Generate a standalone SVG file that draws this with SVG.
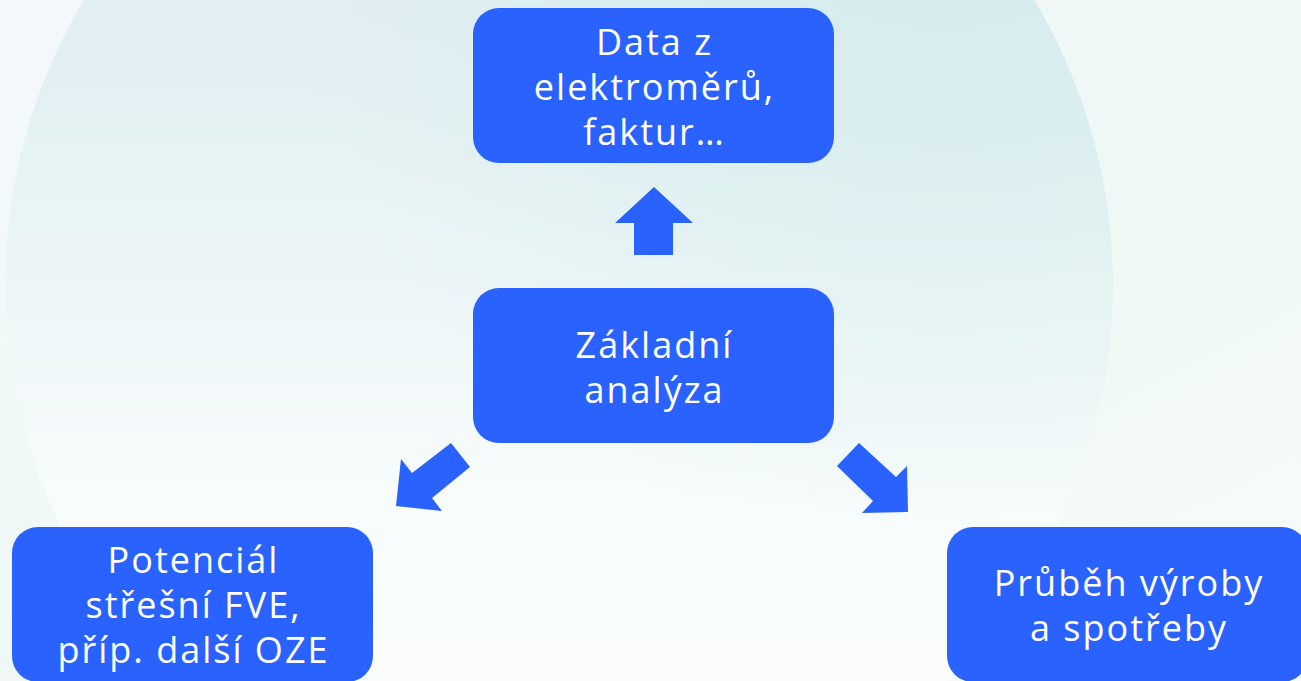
<svg xmlns="http://www.w3.org/2000/svg" width="1301" height="681" viewBox="0 0 1301 681">
<defs>
<linearGradient id="bg" x1="0" y1="0" x2="1" y2="1">
<stop offset="0" stop-color="#f4f9fb"/>
<stop offset="0.6" stop-color="#eef8f5"/>
<stop offset="1" stop-color="#f9fcfb"/>
</linearGradient>
<linearGradient id="circ" x1="0" y1="0" x2="0" y2="1">
<stop offset="0" stop-color="#dbe9f2"/>
<stop offset="0.35" stop-color="#e4f1f3"/>
<stop offset="0.7" stop-color="#f8fcfc"/>
<stop offset="1" stop-color="#ffffff"/>
</linearGradient>
<radialGradient id="teal" cx="0.85" cy="0.15" r="0.6">
<stop offset="0" stop-color="#cfeaea" stop-opacity="0.7"/>
<stop offset="1" stop-color="#cfeaea" stop-opacity="0"/>
</radialGradient>
<style>
.box{fill:#2962ff}
.arrow{fill:#2962ff}
.t{font-family:"Open Sans","Liberation Sans",sans-serif;font-size:36px;letter-spacing:2px;fill:#ffffff;text-anchor:middle}
</style>
</defs>
<rect x="0" y="0" width="1301" height="681" fill="url(#bg)"/>
<circle cx="559" cy="285" r="554" fill="url(#circ)"/>
<circle cx="559" cy="285" r="554" fill="url(#teal)"/>
<g id="connectors">
<polygon class="arrow" points="654,187 693,223 673,223 673,255 634,255 634,223 615,223"/>
<polygon class="arrow" points="451,443 470,467 432,498 442,511 396,506 401,459 412,473"/>
<polygon class="arrow" points="859,443 896,477 907,466 908,512 862,513 873,501 837,466"/>
</g>
<g id="node-data">
<rect class="box" x="473" y="8" width="361" height="155" rx="26"/>
<text class="t" x="654.5" y="55">Data z</text>
<text class="t" x="654.5" y="100">elektroměrů,</text>
<text class="t" x="654.5" y="145">faktur…</text>
</g>
<g id="node-analyza">
<rect class="box" x="473" y="288" width="361" height="155" rx="26"/>
<text class="t" x="654.5" y="358">Základní</text>
<text class="t" x="654.5" y="403">analýza</text>
</g>
<g id="node-fve">
<rect class="box" x="12" y="527" width="361" height="155" rx="26"/>
<text class="t" x="193.5" y="573">Potenciál</text>
<text class="t" x="193.5" y="618">střešní FVE,</text>
<text class="t" x="193.5" y="663">příp. další OZE</text>
</g>
<g id="node-prubeh">
<rect class="box" x="947" y="527" width="361" height="155" rx="26"/>
<text class="t" x="1129" y="596">Průběh výroby</text>
<text class="t" x="1129" y="641">a spotřeby</text>
</g>
</svg>
